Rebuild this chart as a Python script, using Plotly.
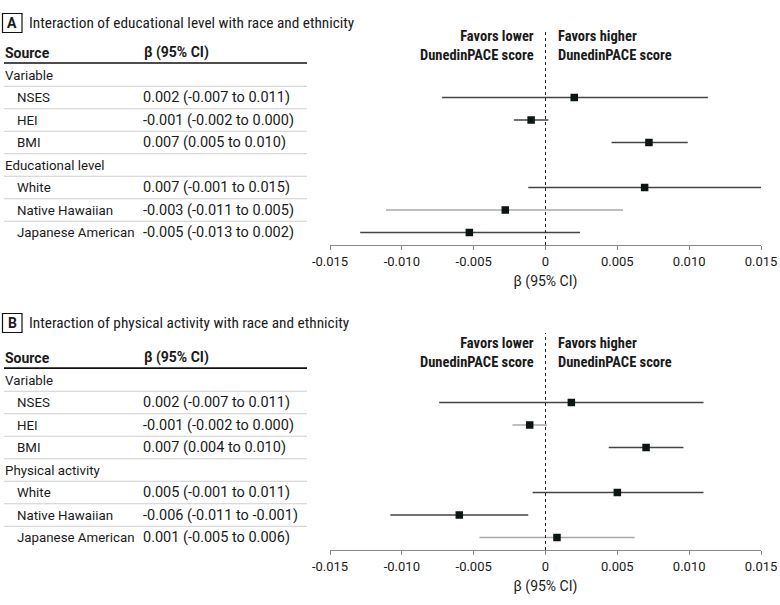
import plotly.graph_objects as go

# ---------------- data ----------------
rows_a = ["Variable", "NSES", "HEI", "BMI", "Educational level", "White", "Native Hawaiian", "Japanese American"]
rows_b = ["Variable", "NSES", "HEI", "BMI", "Physical activity", "White", "Native Hawaiian", "Japanese American"]
is_group = [True, False, False, False, True, False, False, False]

ci_text_a = ["", "0.002 (-0.007 to 0.011)", "-0.001 (-0.002 to 0.000)", "0.007 (0.005 to 0.010)", "",
             "0.007 (-0.001 to 0.015)", "-0.003 (-0.011 to 0.005)", "-0.005 (-0.013 to 0.002)"]
ci_text_b = ["", "0.002 (-0.007 to 0.011)", "-0.001 (-0.002 to 0.000)", "0.007 (0.004 to 0.010)", "",
             "0.005 (-0.001 to 0.011)", "-0.006 (-0.011 to -0.001)", "0.001 (-0.005 to 0.006)"]

# estimates plotted (rows with a value only: NSES, HEI, BMI, White, Native Hawaiian, Japanese American)
est_a = [0.0020, -0.0010, 0.0072, 0.0069, -0.0028, -0.0053]
lo_a = [-0.0072, -0.0022, 0.0046, -0.0012, -0.0111, -0.0129]
hi_a = [0.0113, 0.0002, 0.0099, 0.0150, 0.0054, 0.0024]

est_b = [0.0018, -0.0011, 0.0070, 0.0050, -0.0060, 0.0008]
lo_b = [-0.0074, -0.0023, 0.0044, -0.0009, -0.0108, -0.0046]
hi_b = [0.0110, 0.0001, 0.0096, 0.0110, -0.0012, 0.0062]

tick_vals = [-0.015, -0.010, -0.005, 0, 0.005, 0.010, 0.015]
tick_text = ["-0.015", "-0.010", "-0.005", "0", "0.005", "0.010", "0.015"]

titles = ["Interaction of educational level with race and ethnicity",
          "Interaction of physical activity with race and ethnicity"]
panel_letters = ["A", "B"]

# ---------------- styling ----------------
W, H = 780, 605
DARK, LIGHT = "#444444", "#a8a8a8"
line_col_a = [DARK, DARK, DARK, DARK, LIGHT, DARK]
line_col_b = [DARK, LIGHT, DARK, DARK, DARK, LIGHT]
plot_rows = [1, 2, 3, 5, 6, 7]
FONT = "Roboto, Liberation Sans, sans-serif"
COND = "Roboto Condensed, Roboto, sans-serif"
TXT = "#1a1a1a"


def px(x):
    return x / W


def py(y):
    return 1 - y / H


fig = go.Figure()

panels = [
    dict(off=0, top=30, bottom=245, row0=75, fav=46, rows=rows_a, ci=ci_text_a, est=est_a, lo=lo_a, hi=hi_a,
         cols=line_col_a, xa="x", ya="y", xname="xaxis", yname="yaxis"),
    dict(off=300, top=333, bottom=550, row0=380, fav=353, rows=rows_b, ci=ci_text_b, est=est_b, lo=lo_b, hi=hi_b,
         cols=line_col_b, xa="x2", ya="y2", xname="xaxis2", yname="yaxis2"),
]

STEP = 22.5
X_LEFT, X_RIGHT = 330, 761

for k, p in enumerate(panels):
    off = p["off"]
    row0 = p["row0"]
    r_top = (p["top"] - row0) / STEP
    r_bot = (p["bottom"] - row0) / STEP

    # CI lines
    for i, r in enumerate(plot_rows):
        fig.add_trace(go.Scatter(x=[p["lo"][i], p["hi"][i]], y=[r, r], mode="lines",
                                 line=dict(color=p["cols"][i], width=1.3),
                                 xaxis=p["xa"], yaxis=p["ya"], showlegend=False, hoverinfo="skip"))
    # point estimates
    fig.add_trace(go.Scatter(x=p["est"], y=plot_rows, mode="markers",
                             marker=dict(symbol="square", size=7.5, color="#0d1414",
                                         line=dict(width=0)),
                             xaxis=p["xa"], yaxis=p["ya"], showlegend=False))

    fig.update_layout(**{
        p["xname"]: dict(domain=[px(X_LEFT), px(X_RIGHT)], range=[-0.015, 0.015], anchor=p["ya"],
                         automargin=False,
                         showline=True, linecolor="#8a8a8a", linewidth=1, showgrid=False, zeroline=False,
                         ticks="outside", ticklen=4, tickcolor="#8a8a8a", tickwidth=1,
                         tickvals=tick_vals, ticktext=tick_text,
                         tickfont=dict(family=FONT, size=13, color=TXT),
                         title=dict(text="β (95% CI)", font=dict(family=FONT, size=14, color=TXT), standoff=8),
                         fixedrange=True),
        p["yname"]: dict(domain=[py(p["bottom"]), py(p["top"])], range=[r_bot, r_top], anchor=p["xa"],
                         automargin=False,
                         visible=False, showgrid=False, zeroline=False, fixedrange=True),
    })

    # dotted null line
    fig.add_shape(type="line", xref=p["xa"], yref=p["ya"] + " domain", x0=0, x1=0, y0=0, y1=1,
                  line=dict(color="#222222", width=1, dash="dot"))

    # favors annotations
    fig.add_annotation(xref=p["xa"], yref="paper", x=0, y=py(p["fav"]), xanchor="right", yanchor="middle",
                       xshift=-10, showarrow=False, align="right",
                       text="<b>Favors lower</b><br><b>DunedinPACE score</b>",
                       font=dict(family=COND, size=14.5, color=TXT))
    fig.add_annotation(xref=p["xa"], yref="paper", x=0, y=py(p["fav"]), xanchor="left", yanchor="middle",
                       xshift=10, showarrow=False, align="left",
                       text="<b>Favors higher</b><br><b>DunedinPACE score</b>",
                       font=dict(family=COND, size=14.5, color=TXT))

    # panel letter box and title
    fig.add_shape(type="rect", xref="paper", yref="paper", x0=px(2.5), x1=px(22), y0=py(off + 13.5), y1=py(off + 32.5),
                  line=dict(color="#111111", width=1.2), fillcolor="white")
    fig.add_annotation(xref="paper", yref="paper", x=px(12.2), y=py(off + 23), xanchor="center", yanchor="middle",
                       showarrow=False, text="<b>" + panel_letters[k] + "</b>",
                       font=dict(family=FONT, size=14, color=TXT))
    fig.add_annotation(xref="paper", yref="paper", x=px(27), y=py(off + 23), xanchor="left", yanchor="middle",
                       showarrow=False, text=titles[k],
                       font=dict(family=COND, size=15.3, color=TXT))

    # table header
    fig.add_annotation(xref="paper", yref=p["ya"], x=px(3), y=-1, xanchor="left", yanchor="middle",
                       showarrow=False, text="<b>Source</b>", font=dict(family=FONT, size=14, color=TXT))
    fig.add_annotation(xref="paper", yref=p["ya"], x=px(142), y=-1, xanchor="left", yanchor="middle",
                       showarrow=False, text="<b>β (95% CI)</b>", font=dict(family=FONT, size=14, color=TXT))
    fig.add_shape(type="line", xref="paper", yref=p["ya"], x0=px(4), x1=px(307), y0=-0.53, y1=-0.53,
                  line=dict(color="#111111", width=1.6))

    # table rows
    for r, (name, grp, ci) in enumerate(zip(p["rows"], is_group, p["ci"])):
        fig.add_annotation(xref="paper", yref=p["ya"], x=px(3 if grp else 15), y=r, xanchor="left",
                           yanchor="middle", showarrow=False, text=name,
                           font=dict(family=FONT, size=13.3, color=TXT))
        if ci:
            fig.add_annotation(xref="paper", yref=p["ya"], x=px(141), y=r, xanchor="left",
                               yanchor="middle", showarrow=False, text=ci,
                               font=dict(family=FONT, size=14.5, color=TXT))
        if r < len(p["rows"]) - 1:
            fig.add_shape(type="line", xref="paper", yref=p["ya"], x0=px(4), x1=px(307),
                          y0=r + 0.5, y1=r + 0.5, line=dict(color="#cfcfcf", width=1))

fig.update_layout(width=W, height=H, margin=dict(l=0, r=0, t=0, b=0, pad=0),
                  paper_bgcolor="white", plot_bgcolor="white", showlegend=False,
                  font=dict(family=FONT, color=TXT))

# remove the default 8px page margin so the 780x605 figure fills the window exactly
fig.write_html("out.html", config={"displayModeBar": False},
               post_script="document.body.style.margin='0';document.body.style.overflow='hidden';")
